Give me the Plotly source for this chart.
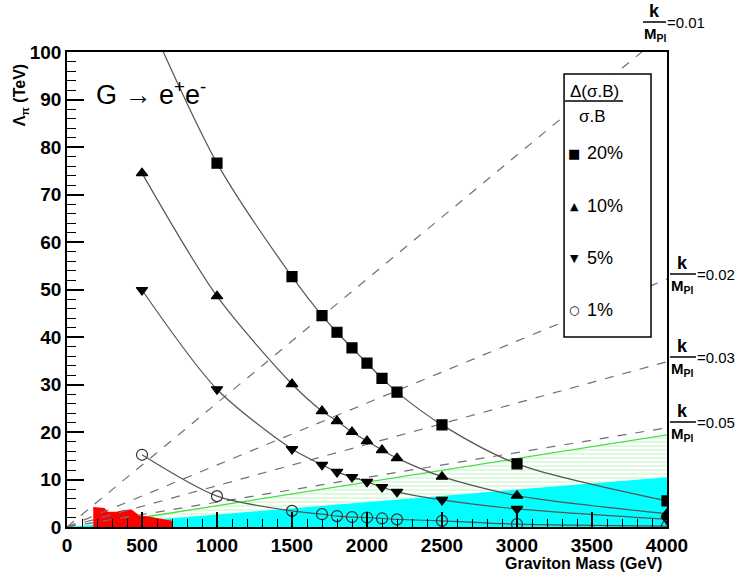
import plotly.graph_objects as go

# ---------------- data ----------------
mass = [500, 1000, 1500, 1700, 1800, 1900, 2000, 2100, 2200, 2500, 3000, 4000]
lam_20 = [110, 76.6, 52.7, 44.5, 41.0, 37.7, 34.5, 31.3, 28.4, 21.5, 13.3, 5.5]
lam_10 = [74.5, 48.6, 30.1, 24.4, 22.3, 20.0, 18.1, 16.2, 14.5, 10.6, 6.6, 2.8]
lam_5 = [49.9, 29.0, 16.4, 13.1, 11.6, 10.5, 9.5, 8.4, 7.4, 5.7, 3.8, 1.6]
lam_1 = [15.2, 6.5, 3.4, 2.7, 2.3, 2.1, 2.0, 1.8, 1.6, 1.3, 0.6, 0.2]

# dashed k/M_Pl lines: value of Lambda at M = 4000 GeV (lines start at origin)
k_labels = ["0.01", "0.02", "0.03", "0.05"]
k_end_4000 = [104.4, 52.2, 34.8, 20.9]

# cyan band (upper edge) and green hatched band (upper edge)
cyan_mass = [0, 4000]
cyan_top = [0, 10.5]
green_mass = [500, 4000]
green_low = [1.3, 10.5]
green_top = [2.0, 19.4]

# red excluded region
red_mass = [175, 175, 250, 270, 330, 380, 430, 480, 560, 620, 700, 700]
red_top = [0, 4.2, 4.0, 3.2, 3.2, 3.6, 3.7, 2.5, 2.1, 1.7, 1.3, 0]

FONT = "Liberation Sans, Arial, sans-serif"

fig = go.Figure()

# green hatched band
fig.add_trace(go.Scatter(x=green_mass, y=green_low, mode="lines",
                         line=dict(width=0, color="rgba(0,0,0,0)"), hoverinfo="skip"))
fig.add_trace(go.Scatter(x=green_mass, y=green_top, mode="lines",
                         line=dict(width=1.3, color="#44e044"), fill="tonexty",
                         fillcolor="rgba(0,0,0,0)",
                         fillpattern=dict(shape="-", fgcolor="#90ee90", bgcolor="rgba(0,0,0,0)",
                                          size=4, solidity=0.3),
                         hoverinfo="skip"))
# cyan band
fig.add_trace(go.Scatter(x=cyan_mass, y=cyan_top, mode="lines", line=dict(width=0),
                         fill="tozeroy", fillcolor="#00ffff", hoverinfo="skip"))
# red region
fig.add_trace(go.Scatter(x=red_mass, y=red_top, mode="lines", line=dict(width=0),
                         fill="toself", fillcolor="#ff0000", hoverinfo="skip"))

# dashed k/M_Pl lines
for lab, v in zip(k_labels, k_end_4000):
    fig.add_trace(go.Scatter(x=[0, 4000], y=[0, v], mode="lines",
                             line=dict(color="#707070", width=1.2, dash="dash"),
                             hoverinfo="skip"))

# curves with markers
series = [
    (lam_20, "square", "black", 10),
    (lam_10, "triangle-up", "black", 10),
    (lam_5, "triangle-down", "black", 10),
    (lam_1, "circle-open", "#333333", 11),
]
for vals, sym, col, sz in series:
    fig.add_trace(go.Scatter(x=mass, y=vals, mode="lines+markers",
                             line=dict(color="#555555", width=1.2, shape="spline", smoothing=0.8),
                             marker=dict(symbol=sym, size=sz, color=col,
                                         line=dict(color=col, width=1.2)),
                             hoverinfo="skip"))

# ---------------- layout ----------------
L, R, T, B = 66.7, 667.0, 52.0, 527.0


def px(x):
    return (x - L) / (R - L)


def py(y):
    return (B - y) / (B - T)


def note(x, y, text, size, xa="center", ya="middle", family=FONT, **kw):
    return dict(x=px(x), y=py(y), xref="paper", yref="paper", showarrow=False,
                xanchor=xa, yanchor=ya, text=text,
                font=dict(family=family, size=size, color="black"), **kw)


ann = []
shapes = []

# y-axis title
ann.append(note(20, 95, "<b>Λ<sub>π</sub> (TeV)</b>", 16, textangle=-90))
# x-axis title
ann.append(note(664, 563, "<b>Graviton Mass (GeV)</b>", 16, xa="right"))
# process label
ann.append(note(94, 93, "G → e<sup>+</sup>e<sup>-</sup>", 27, xa="left"))

# legend box
shapes.append(dict(type="rect", xref="paper", yref="paper",
                   x0=px(564), x1=px(651), y0=py(74), y1=py(337),
                   line=dict(color="black", width=1.5), fillcolor="white", layer="above"))
ann.append(note(594, 91, "Δ(σ.B)", 17))
shapes.append(dict(type="line", xref="paper", yref="paper",
                   x0=px(565), x1=px(623), y0=py(101), y1=py(101),
                   line=dict(color="black", width=1.5), layer="above"))
ann.append(note(592, 116, "σ.B", 17))
leg_items = [("■", "20%", 153, 13), ("▲", "10%", 206, 11), ("▼", "5%", 258, 11), ("○", "1%", 310, 12)]
for sym, lab, yy, ss in leg_items:
    ann.append(note(574, yy, sym, ss, family="DejaVu Sans"))
    ann.append(note(585, yy, lab, 18, xa="left"))

# k/M_Pl labels on the right
k_pos = [(643, 666, 22), (670, 696, 274), (670, 696, 357), (670, 696, 422)]
for lab, (x0, x1, yl) in zip(k_labels, k_pos):
    shapes.append(dict(type="line", xref="paper", yref="paper",
                       x0=px(x0), x1=px(x1), y0=py(yl), y1=py(yl),
                       line=dict(color="black", width=1.5)))
    ann.append(note((x0 + x1) / 2, yl + 1, "<b>k</b>", 18, ya="bottom"))
    ann.append(note(x0 - 1, yl + 1, "<b>M<sub>Pl</sub></b>", 15, xa="left", ya="top"))
    ann.append(note(x1 - 1, yl, "=" + lab, 15, xa="left"))

fig.update_layout(
    width=736, height=576,
    margin=dict(l=L, r=736 - R, t=T, b=576 - B),
    paper_bgcolor="white", plot_bgcolor="white",
    showlegend=False,
    font=dict(family=FONT, color="black"),
    annotations=ann, shapes=shapes,
    xaxis=dict(range=[0, 4000], dtick=500, tick0=0, showgrid=False, zeroline=False,
               showline=True, linecolor="black", linewidth=1.6, mirror=True,
               ticks="inside", ticklen=15, tickwidth=1.5, tickcolor="black",
               minor=dict(ticks="inside", dtick=100, ticklen=8, tickwidth=1.2, tickcolor="black"),
               tickfont=dict(family=FONT, size=19, color="black", weight="bold"),
               ticklabelstandoff=0),
    yaxis=dict(range=[0, 100], dtick=10, tick0=0, showgrid=False, zeroline=False,
               showline=True, linecolor="black", linewidth=1.6, mirror=True,
               ticks="inside", ticklen=17, tickwidth=1.5, tickcolor="black",
               minor=dict(ticks="inside", dtick=2, ticklen=9, tickwidth=1.2, tickcolor="black"),
               tickfont=dict(family=FONT, size=19, color="black", weight="bold"),
               ticklabelstandoff=0),
)

fig.write_html("out.html")
